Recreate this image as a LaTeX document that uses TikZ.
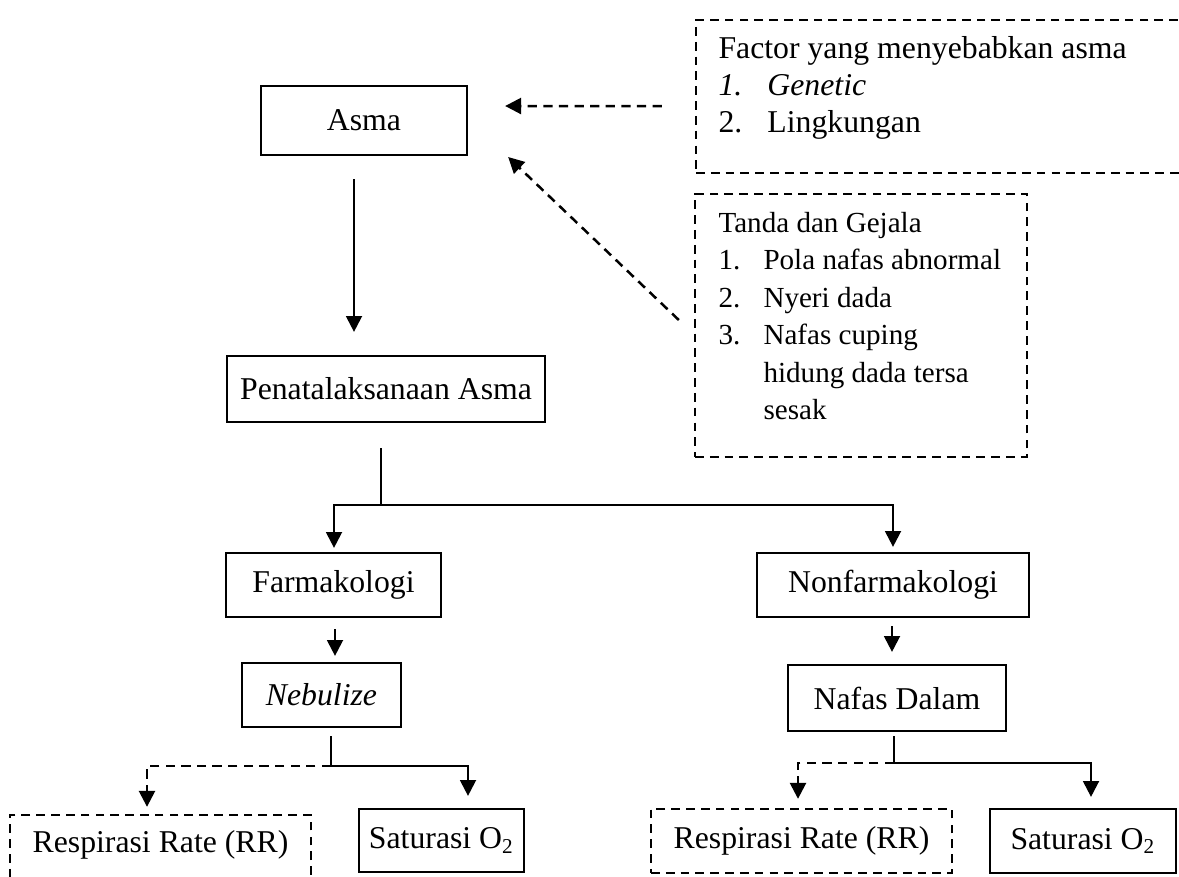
\documentclass[tikz,border=0pt]{standalone}
\usepackage{fontspec}
\setmainfont{Liberation Serif}
\usetikzlibrary{calc,arrows.meta}
\newlength\pxu
\setlength\pxu{0.378pt}
\begin{document}
\begin{tikzpicture}[x=0.378pt,y=-0.378pt,
  every node/.style={font=\fontsize{12}{14}\selectfont, inner sep=0pt},
  box/.style={draw, line width=0.85pt},
  dbox/.style={draw, line width=0.9pt, dash pattern=on 3.3pt off 2.3pt},
  line/.style={line width=0.85pt},
  arr/.style={line, -{Triangle[width=6pt,length=6pt]}},
  darr/.style={arr, line width=0.95pt, dash pattern=on 3.5pt off 2.4pt}]
\clip (0,0) rectangle (1179,876);
\fill[white] (0,0) rectangle (1179,876);

% main boxes
\node[box, minimum width=206\pxu, minimum height=69\pxu] (asma) at (364,120.5) {Asma};
\node[box, minimum width=318\pxu, minimum height=66\pxu] (pen) at (386,389) {Penatalaksanaan Asma};
\node[box, minimum width=215\pxu, minimum height=64\pxu] (farm) at (333.5,585) {Farmakologi};
\node[box, minimum width=272\pxu, minimum height=64\pxu] (nonfarm) at (893,585) {Nonfarmakologi};
\node[box, minimum width=159\pxu, minimum height=64\pxu] (neb) at (321.5,695) {\textit{Nebulize}};
\node[box, minimum width=218\pxu, minimum height=66\pxu] (nafas) at (897,698) {Nafas Dalam};
\node[dbox, minimum width=301\pxu, text height=37\pxu, text depth=33\pxu] (rr1) at (160.5,850) {Respirasi Rate (RR)};
\node[box, minimum width=165\pxu, minimum height=63\pxu] (sat1) at (441.5,840.5) {Saturasi O\textsubscript{2}};
\node[dbox, minimum width=301\pxu, minimum height=64\pxu] (rr2) at (801.5,841) {Respirasi Rate (RR)};
\node[box, minimum width=186\pxu, minimum height=64\pxu] (sat2) at (1083,841) {Saturasi O\textsubscript{2}};

% side dashed boxes
\node[dbox, minimum width=520\pxu, minimum height=153\pxu] (factor) at (956,96.5) {};
\node[anchor=base west] (factortext) at (718,58) {%
  \begin{tabular}[t]{@{}l@{}l@{}}
  \multicolumn{2}{@{}l@{}}{Factor yang menyebabkan asma}\\
  \makebox[18.5pt][l]{\textit{1.}} & \textit{Genetic}\\
  \makebox[18.5pt][l]{2.} & Lingkungan
  \end{tabular}};
\node[dbox, minimum width=332\pxu, minimum height=263\pxu] (tanda) at (861,325.5) {};
\node[anchor=base west, font=\fontsize{11}{14.2}\selectfont] (tandatext) at (718,232) {%
  \begin{tabular}[t]{@{}l@{}l@{}}
  \multicolumn{2}{@{}l@{}}{Tanda dan Gejala}\\
  \makebox[17pt][l]{1.} & Pola nafas abnormal\\
  \makebox[17pt][l]{2.} & Nyeri dada\\
  \makebox[17pt][l]{3.} & Nafas cuping\\
   & hidung dada tersa\\
   & sesak
  \end{tabular}};

% connectors
\draw[darr] ($(factor.west)+(-33,9.5)$) -- ($(asma.east)+(37,-14.5)$);
\draw[darr] ($(tanda.west)+(-15,-5.5)$) -- ($(asma.east)+(40,36.5)$);
\draw[arr] ($(asma.south)+(-10,23)$) -- ($(pen.north)+(-32,-23)$);
\draw[line] ($(pen.south)+(-5,25)$) -- ($(pen.south)+(-5,82)$) coordinate (j1);
\draw[arr] (j1) -| ($(farm.north)+(0.5,-4)$);
\draw[arr] (j1) -| ($(nonfarm.north)+(0,-5)$);
\draw[arr] ($(farm.south)+(1.5,11)$) -- ($(neb.north)+(13.5,-6)$);
\draw[arr] ($(nonfarm.south)+(-1,8)$) -- ($(nafas.north)+(-5,-12)$);
\draw[line] ($(neb.south)+(9.5,8)$) -- ($(neb.south)+(9.5,38)$) coordinate (j2);
\draw[darr] (j2) -| ($(rr1.north)+(-13.5,-7)$);
\draw[arr] (j2) -| ($(sat1.north)+(26.5,-12)$);
\draw[line] ($(nafas.south)+(-3,4)$) -- ($(nafas.south)+(-3,31)$) coordinate (j3);
\draw[darr] (j3) -| ($(rr2.north)+(-3.5,-9)$);
\draw[arr] (j3) -| ($(sat2.north)+(8,-11)$);
\end{tikzpicture}
\end{document}
